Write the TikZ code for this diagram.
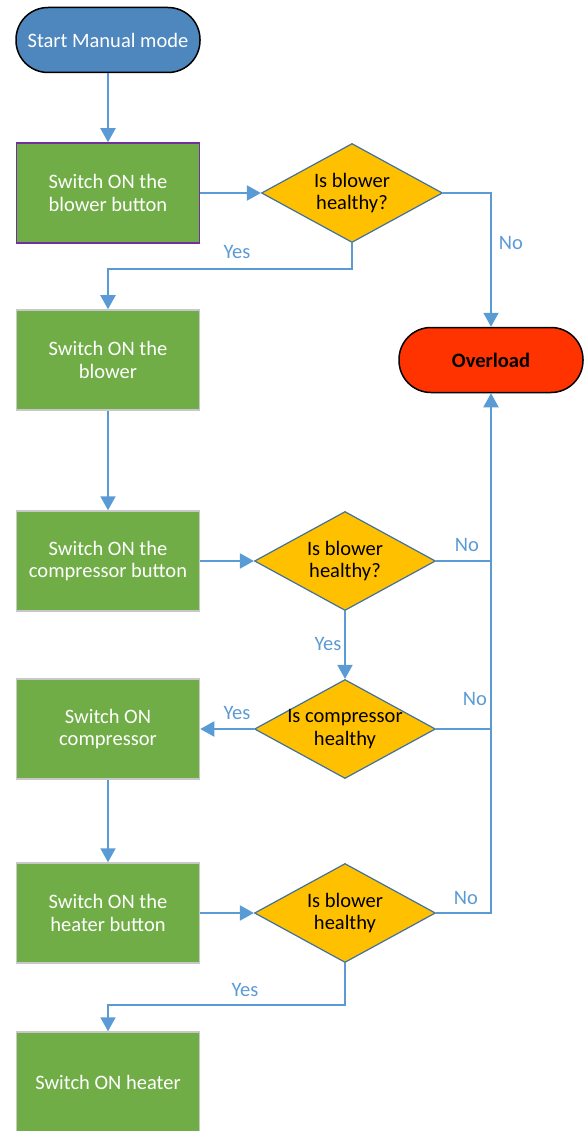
\documentclass[tikz,border=0pt]{standalone}
\usepackage{fontspec}
\setmainfont{Carlito}
\usetikzlibrary{shapes.geometric,arrows.meta}
\definecolor{boxgreen}{HTML}{70AD47}
\definecolor{boxedge}{HTML}{C8C8C8}
\definecolor{boxpurple}{HTML}{7030A0}
\definecolor{askfill}{HTML}{FFC000}
\definecolor{askedge}{HTML}{41719C}
\definecolor{flowblue}{HTML}{5B9BD5}
\definecolor{startblue}{HTML}{4E86BE}
\definecolor{stopred}{HTML}{FF3300}
\tikzset{
	box/.style={rectangle,draw=boxedge,line width=1.5pt,fill=boxgreen,text=white,
		minimum width=183pt,minimum height=100pt,align=center},
	ask/.style={diamond,draw=askedge,line width=1.2pt,fill=askfill,inner sep=-4pt,
		shape aspect=1.83,minimum width=181pt,minimum height=99pt,align=center},
	term/.style={rectangle,rounded corners=32pt,draw=black,line width=1.5pt,
		minimum width=184pt,minimum height=65pt,align=center},
	flow/.style={draw=flowblue,line width=2pt,-{Triangle[length=14pt,width=15pt]}},
	line/.style={draw=flowblue,line width=2pt},
	answer/.style={text=flowblue}
}
\begin{document}
\begin{tikzpicture}[x=1pt,y=-1pt,font=\fontsize{20.5}{22.5}\selectfont]
	\useasboundingbox (0,0) rectangle (587,1131);
	\node[term,fill=startblue,text=white] at (108,40) (start) {Start Manual mode};
	\node[box,draw=boxpurple] at (108,193) (b1) {Switch ON the\\blower button};
	\node[ask] at (352,193) (d1) {Is blower\\healthy?};
	\node[term,fill=stopred] at (491,360) (ol) {\textbf{Overload}};
	\node[box] at (108,360) (b2) {Switch ON the\\blower};
	\node[box] at (108,561) (b3) {Switch ON the\\compressor button};
	\node[ask] at (345,561) (d2) {Is blower\\healthy?};
	\node[ask] at (345,729) (d3) {Is compressor\\healthy};
	\node[box] at (108,729) (b4) {Switch ON\\compressor};
	\node[box] at (108,913) (b5) {Switch ON the\\heater button};
	\node[ask] at (345,913) (d4) {Is blower\\healthy};
	\node[box] at (108,1082) (b6) {Switch ON heater};
	
	\coordinate (y1) at (108,269);
	\coordinate (y4) at (108,1005);
	\coordinate (n2) at (d2.east -| ol.south);
	\coordinate (n3) at (d3.east -| ol.south);
	
	\draw[flow] (start) -- (b1);
	\draw[flow] (b1) -- (d1);
	\draw[flow] (d1.south) |- (y1) -- (b2);
	\draw[flow] (d1.east) -| (ol.north);
	\draw[flow] (b2) -- (b3);
	\draw[flow] (b3) -- (d2);
	\draw[line] (d2.east) -- (n2);
	\draw[flow] (d2) -- (d3);
	\draw[flow] (d3) -- (b4);
	\draw[line] (d3.east) -- (n3);
	\draw[flow] (b4) -- (b5);
	\draw[flow] (b5) -- (d4);
	\draw[flow] (d4.east) -| (ol.south);
	\draw[flow] (d4.south) |- (y4) -- (b6);
	
	\node[answer] at (237,252) (yes1) {Yes};
	\node[answer] at (511,243) (no1) {No};
	\node[answer] at (467,545) (no2) {No};
	\node[answer] at (328,644) (yes2) {Yes};
	\node[answer] at (237,713) (yes3) {Yes};
	\node[answer] at (475,699) (no3) {No};
	\node[answer] at (466,898) (no4) {No};
	\node[answer] at (245,990) (yes4) {Yes};
\end{tikzpicture}
\end{document}
